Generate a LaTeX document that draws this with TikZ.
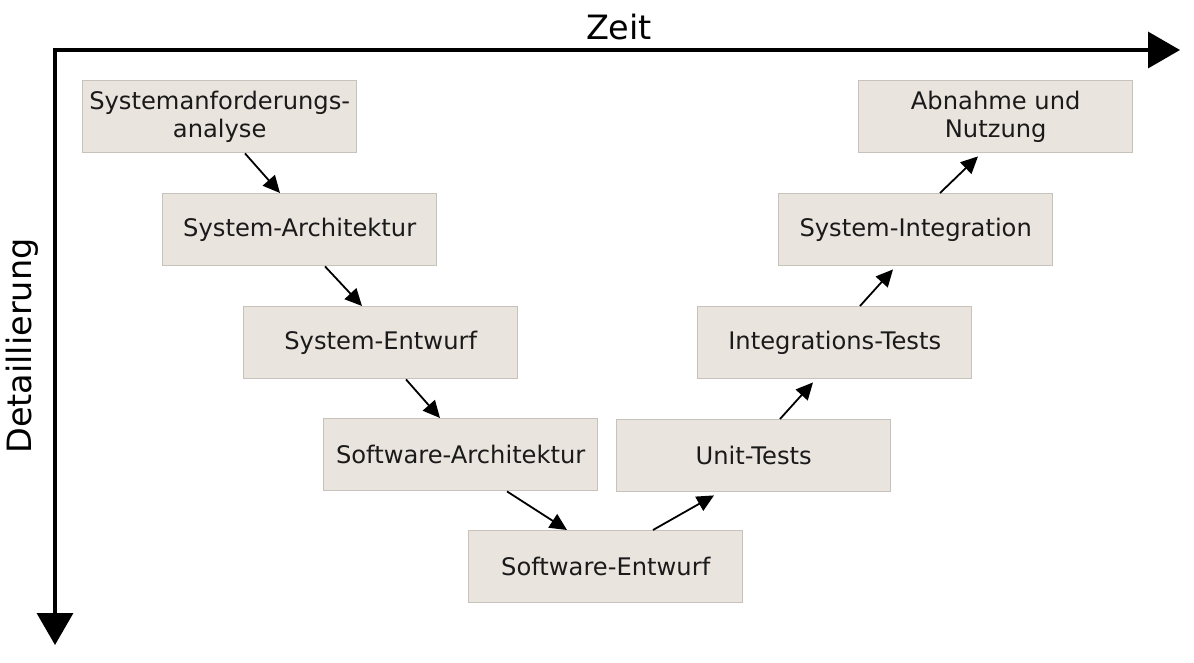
\documentclass[tikz,border=0pt]{standalone}
\usepackage{fontspec}
\setmainfont{DejaVu Sans}
\usetikzlibrary{arrows.meta,calc}
\definecolor{boxfill}{HTML}{EAE4DE}
\definecolor{boxline}{HTML}{C8C2BD}
\definecolor{txt}{HTML}{1A1A1A}
\begin{document}
\begin{tikzpicture}[x=1pt,y=-1pt,
  stage/.style={draw=boxline,line width=1.4pt,fill=boxfill,minimum width=274pt,minimum height=72pt,
    anchor=north west,inner sep=0pt,align=center,text=txt,font=\fontsize{24.2}{27.5}\selectfont},
  flow/.style={-{Triangle[length=17pt,width=16pt]},line width=1.8pt,black},
  axis/.style={-{Triangle[length=32pt,width=36pt]},line width=3.5pt,black},
  axlabel/.style={font=\fontsize{33.5}{40}\selectfont,text=black}]
\useasboundingbox (0,0) rectangle (1194,662);
\coordinate (o) at (55,50);
\coordinate (xend) at (1180,50);
\coordinate (yend) at (55,645);
\draw[axis] ([xshift=-1.75pt]o) -- (xend);
\draw[axis] (o) -- (yend);
\node[axlabel] (zeit) at (619,27) {Zeit};
\node[axlabel,rotate=90] (detail) at (22,346) {Detaillierung};

\node[stage] (b1) at (82,80) {Systemanforderungs-\\analyse};
\node[stage] (b2) at (162,193) {System-Architektur};
\node[stage] (b3) at (243,306) {System-Entwurf};
\node[stage] (b4) at (323,418) {Software-Architektur};
\node[stage] (b5) at (468,530) {Software-Entwurf};
\node[stage] (b6) at (616,419) {Unit-Tests};
\node[stage] (b7) at (697,306) {Integrations-Tests};
\node[stage] (b8) at (778,193) {System-Integration};
\node[stage] (b9) at (858,80) {Abnahme und\\Nutzung};

\draw[flow] ([xshift=163pt]b1.south west) -- ([xshift=118pt]b2.north west);
\draw[flow] ([xshift=163pt]b2.south west) -- ([xshift=119pt]b3.north west);
\draw[flow] ([xshift=163pt]b3.south west) -- ([xshift=117pt]b4.north west);
\draw[flow] ([xshift=184pt]b4.south west) -- ([xshift=99pt]b5.north west);
\draw[flow] ([xshift=185pt]b5.north west) -- ([xshift=98pt,yshift=-3pt]b6.south west);
\draw[flow] ([xshift=164pt]b6.north west) -- ([xshift=116pt,yshift=-3pt]b7.south west);
\draw[flow] ([xshift=163pt]b7.north west) -- ([xshift=115pt,yshift=-3pt]b8.south west);
\draw[flow] ([xshift=162pt]b8.north west) -- ([xshift=120pt,yshift=-3pt]b9.south west);
\end{tikzpicture}
\end{document}
